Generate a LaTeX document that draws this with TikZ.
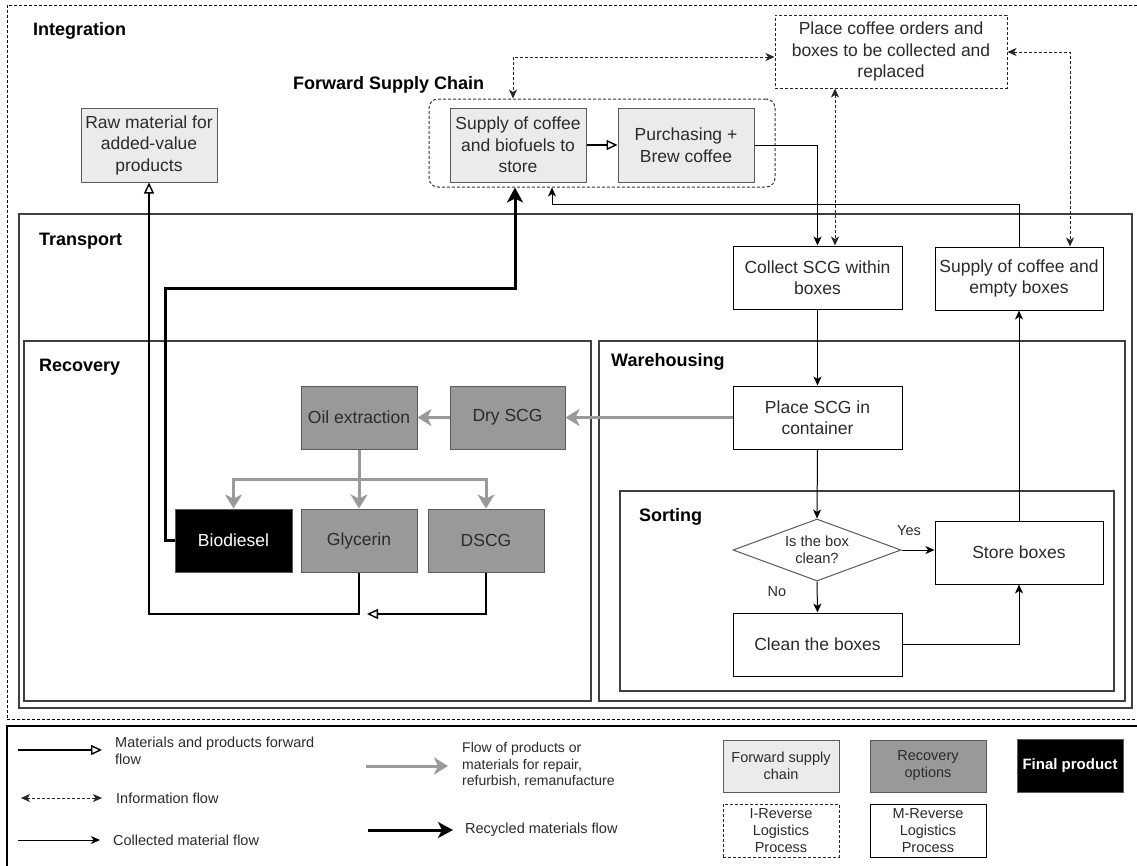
\documentclass[tikz,border=0pt]{standalone}
\usepackage{fontspec}
\setmainfont{Liberation Sans}
\usetikzlibrary{arrows.meta,shapes.geometric}

\definecolor{fsfill}{HTML}{EBEBEB}
\definecolor{recfill}{HTML}{999999}
\definecolor{edge}{HTML}{5A5A5A}
\definecolor{txtc}{HTML}{2B2B2B}
\definecolor{flowgray}{HTML}{9A9A9A}

\newcommand\bxfont{\fontsize{17.5}{21.5}\selectfont}
\newcommand\lgfont{\fontsize{14.5}{17}\selectfont}
\newcommand\ttlfont{\bfseries\fontsize{18}{22}\selectfont}

\tikzset{
  sz/.style 2 args={minimum width=#1, minimum height=#2},
  base/.style={rectangle, inner sep=0pt, align=center, text=txtc, font=\bxfont},
  fwdbox/.style={base, draw=edge, fill=fsfill, line width=1pt},
  recbox/.style={base, draw=edge, fill=recfill, line width=1pt},
  finalbox/.style={base, draw=edge, fill=black, text=white, line width=1pt},
  procbox/.style={base, draw=black, fill=white, line width=1pt},
  infobox/.style={base, draw=black!85, dash pattern=on 3pt off 2pt, line width=1pt},
  frame/.style={rectangle, inner sep=0pt, draw=black!75, line width=1.1pt},
  dashframe/.style={rectangle, inner sep=0pt, draw=black, line width=1pt, dash pattern=on 3pt off 2pt},
  ttl/.style={font=\ttlfont, anchor=west, inner sep=0pt, text=black},
  lgtext/.style={font=\lgfont, anchor=west, inner sep=0pt, align=left, text=txtc},
  tip/.style={Stealth[length=9pt,width=8pt,inset=2.5pt]},
  coll/.style={draw=black, line width=1pt, -{Stealth[length=9pt,width=8pt,inset=2.5pt]}},
  info/.style={draw=black!85, line width=1pt, dash pattern=on 3pt off 2pt,
    {Stealth[length=9pt,width=8pt,inset=2.5pt]}-{Stealth[length=9pt,width=8pt,inset=2.5pt]}},
  fwd/.style={draw=black, line width=1.4pt, -{Triangle[length=11pt,width=10pt,fill=white]}},
  grayflow/.style={draw=flowgray, line width=3pt, -{Stealth[length=14pt,width=17pt,inset=4pt]}},
  recyc/.style={draw=black, line width=3pt, -{Stealth[length=15pt,width=16pt,inset=4pt]}},
}

\begin{document}
\begin{tikzpicture}[x=1pt,y=-1pt]
\useasboundingbox (0,0) rectangle (1137,865);
\fill[white] (0,0) rectangle (1137,865);

% ---- nested process areas ----
\node[dashframe, sz={1133pt}{714pt}] (integ) at (573.5,362) {};
\node[frame, sz={1113pt}{494pt}] (transport) at (575.5,461) {};
\node[frame, sz={567pt}{360pt}] (recovery) at (307.5,521) {};
\node[frame, sz={526pt}{360pt}] (warehouse) at (862,521) {};
\node[frame, sz={494pt}{200pt}] (sorting) at (867,591) {};
\node[dashframe, rounded corners=9pt, draw=black!80, sz={346pt}{88pt}] (fsc) at (602,143) {};

\node[ttl] (tInteg) at (33,31) {Integration};
\node[ttl] (tFsc) at (293,85) {Forward Supply Chain};
\node[ttl] (tTrans) at (39,241) {Transport};
\node[ttl] (tRec) at (39,367) {Recovery};
\node[ttl] (tWare) at (611,362) {Warehousing};
\node[ttl] (tSort) at (639,517) {Sorting};

% ---- process steps ----
\node[infobox, sz={232pt}{73pt}] (place) at (891,51.5) {Place coffee orders and\\boxes to be collected and\\replaced};
\node[fwdbox, sz={136pt}{74pt}] (raw) at (149,145) {Raw material for\\added-value\\products};
\node[fwdbox, sz={136pt}{74pt}] (supply) at (518,145) {Supply of coffee\\and biofuels to\\store};
\node[fwdbox, sz={136pt}{74pt}] (purch) at (686,145) {Purchasing +\\Brew coffee};

\node[procbox, sz={169pt}{63pt}] (collect) at (817.5,277.5) {Collect SCG within\\boxes};
\node[procbox, sz={168pt}{63pt}] (supplytwo) at (1019,278.5) {Supply of coffee and\\empty boxes};
\node[procbox, sz={169pt}{63pt}] (placescg) at (817.5,417.5) {Place SCG in\\container};

\node[recbox, sz={115pt}{63pt}] (dry) at (507.5,417.5) {Dry SCG};
\node[recbox, sz={116pt}{63pt}] (oil) at (359,417.5) {Oil extraction};
\node[finalbox, sz={117pt}{63pt}] (bio) at (233.5,540.5) {Biodiesel};
\node[recbox, sz={116pt}{63pt}] (glyc) at (359,540.5) {Glycerin};
\node[recbox, sz={116pt}{63pt}] (dscg) at (486,540.5) {DSCG};

\node[diamond, aspect=2.7, draw=edge, fill=white, line width=1pt, inner sep=0pt,
      sz={168pt}{62pt}, align=center, text=txtc, font=\fontsize{14.7}{17}\selectfont] (dia) at (817,550) {Is the box\\clean?};
\node[procbox, sz={168pt}{63pt}] (store) at (1019,552.5) {Store boxes};
\node[procbox, sz={169pt}{63pt}] (clean) at (817.5,644.5) {Clean the boxes};

% ---- routing points ----
\coordinate (iL) at (513,57);
\coordinate (iR) at (1070,52);
\coordinate (iV) at (835,0);
\coordinate (rt) at (552,204);
\coordinate (br) at (359,479);
\coordinate (tk) at (165,288);
\coordinate (xrec) at (515,0);
\coordinate (fw) at (149,614);
\coordinate (fwtip) at (367,614);

% ---- information flows ----
\draw[info] (iL -| place.west) -- (iL) -- (iL |- fsc.north);
\draw[info] (iR -| place.east) -- (iR) -- (iR |- supplytwo.north);
\draw[info] (iV |- place.south) -- (iV |- collect.north);

% ---- collected material flows ----
\draw[coll] (purch.east) -| (collect.north);
\draw[coll] (supplytwo.north) |- (rt) -- (rt |- fsc.south);
\draw[coll] (collect.south) -- (placescg.north);
\draw[coll] (placescg.south) -- (dia.north);
\draw[coll] (dia.east) -- (store.west |- dia.east);
\draw[coll] (dia.south) -- (clean.north);
\draw[coll] (clean.east) -| (store.south);
\draw[coll] (store.north) -- (supplytwo.south);
\node[font=\lgfont, text=txtc] (yes) at (909,531) {Yes};
\node[font=\lgfont, text=txtc] (no) at (777,592) {No};

% ---- recovery flows ----
\draw[grayflow] (placescg.west) -- (dry.east);
\draw[grayflow] (dry.west) -- (oil.east);
\draw[grayflow] (oil.south) -- (glyc.north);
\draw[grayflow] (br) -| (bio.north);
\draw[grayflow] (br) -| (dscg.north);

% ---- recycled and forward flows ----
\draw[recyc] (bio.west) -| (tk) -| (xrec |- fsc.south);
\draw[fwd] (glyc.south) |- (fw) -- (raw.south);
\draw[fwd] (dscg.south) |- (fwtip);
\draw[fwd] (supply.east) -- (purch.west);

% ---- legend ----
\node[rectangle, inner sep=0pt, draw=black, line width=1.2pt, sz={1133pt}{144pt}] (legend) at (573.5,798) {};

\coordinate (la1) at (18,750);  \coordinate (lb1) at (102,750);
\coordinate (la2) at (21,798);  \coordinate (lb2) at (102,798);
\coordinate (la3) at (18,840);  \coordinate (lb3) at (100,840);
\coordinate (la4) at (366,766); \coordinate (lb4) at (448,766);
\coordinate (la5) at (368,830); \coordinate (lb5) at (453,830);
\draw[fwd] (la1) -- (lb1);
\draw[info] (la2) -- (lb2);
\draw[coll] (la3) -- (lb3);
\draw[grayflow] (la4) -- (lb4);
\draw[recyc] (la5) -- (lb5);

\node[lgtext] (lt1) at (115,750.5) {Materials and products forward\\flow};
\node[lgtext] (lt2) at (116,798) {Information flow};
\node[lgtext] (lt3) at (113,840) {Collected material flow};
\node[lgtext, font=\fontsize{14}{16.5}\selectfont] (lt4) at (462,765) {Flow of products or\\materials for repair,\\refurbish, remanufacture};
\node[lgtext] (lt5) at (465,830) {Recycled materials flow};

\node[fwdbox, font=\lgfont, sz={116pt}{52pt}] (kf) at (781,766) {Forward supply\\chain};
\node[recbox, font=\lgfont, sz={116pt}{52pt}] (kr) at (928,766) {Recovery\\options};
\node[finalbox, font=\bfseries\fontsize{15}{17}\selectfont, sz={106pt}{53pt}] (kp) at (1070,766) {Final product};
\node[infobox, font=\lgfont, sz={116pt}{53pt}] (ki) at (781,830.5) {I-Reverse\\Logistics\\Process};
\node[procbox, font=\lgfont, sz={116pt}{53pt}] (km) at (928,830.5) {M-Reverse\\Logistics\\Process};
\end{tikzpicture}
\end{document}
